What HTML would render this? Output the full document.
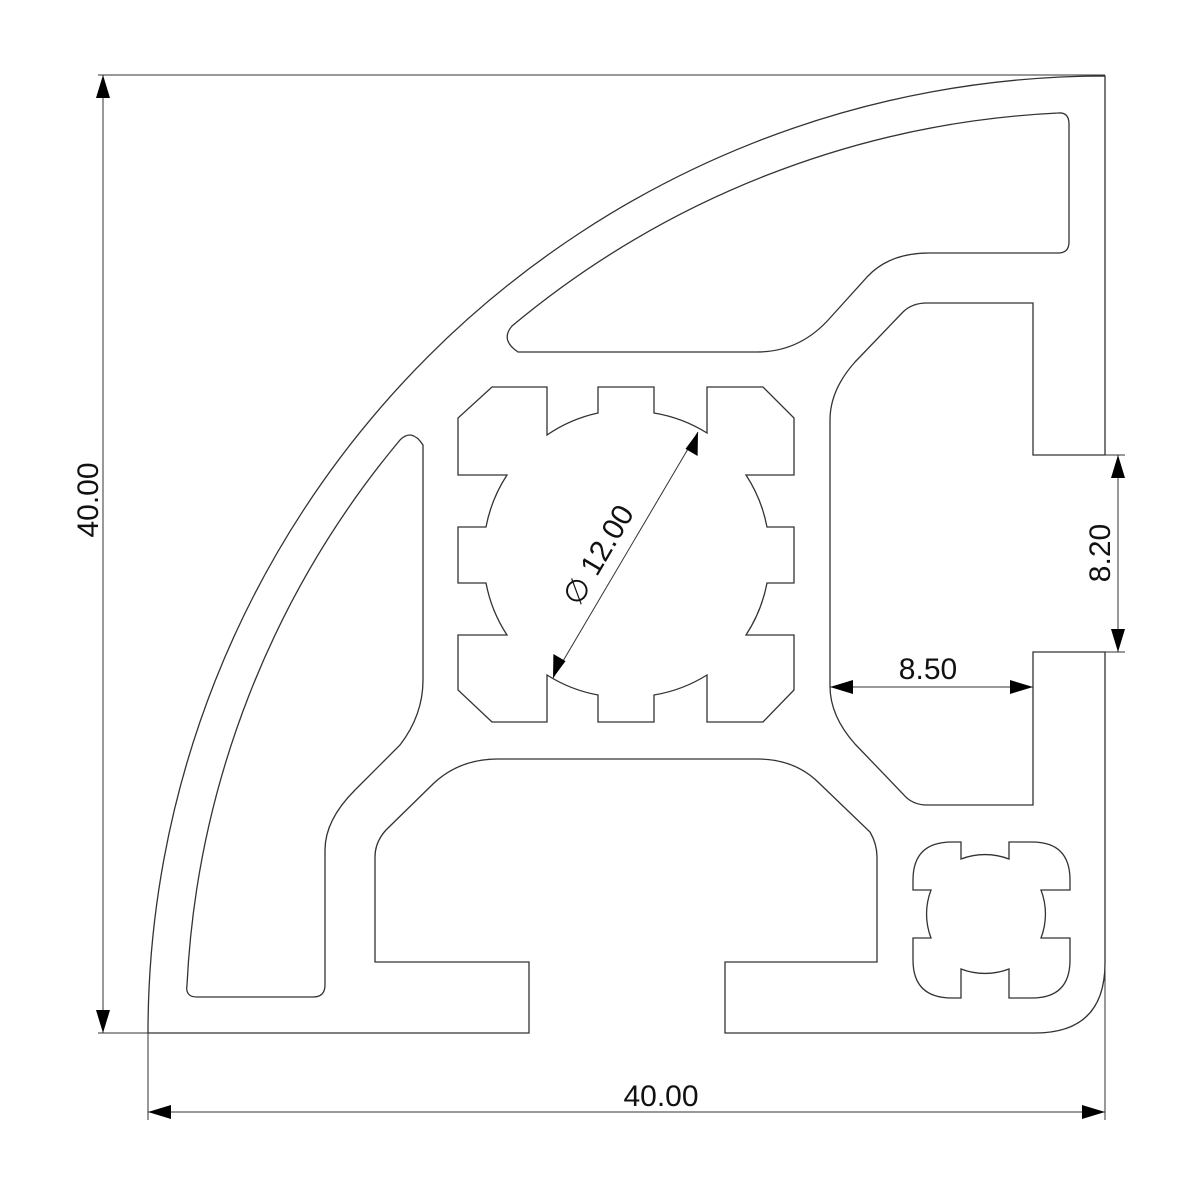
<!DOCTYPE html>
<html><head><meta charset="utf-8"><style>
html,body{margin:0;padding:0;background:#fff;}
svg{display:block;}
text{font-family:"Liberation Sans",sans-serif;font-size:30px;fill:#111;}
</style></head><body>
<svg width="1200" height="1200" viewBox="0 0 1200 1200" xmlns="http://www.w3.org/2000/svg">
<g fill="none" stroke="#333" stroke-width="1.3">
<path d="M148,1033 A957,957 0 0 1 1105,76 L1105,455 L1033,455 L1033,303 L927,303 Q912,303 903,312 L855,362 Q830,390 830,420 L830,686 Q830,716 855,744 L903,794 Q912,805 927,805 L1033,805 L1033,652 L1105,652 L1105,963 Q1105,1033 1035,1033 L725,1033 L725,962 L877,962 L877,857 Q877,844 870,832 L819,783 Q795,759 757,759 L498,759 Q460,759 434,783 L386,830 Q375,842 375,857 L375,962 L529,962 L529,1033 Z"/>
<path d="M1058,113 A921,921 0 0 0 512,326 Q500,340 518,352 L757,352 Q800,352 830,318 L868,276 Q890,253 929,253 L1058,253 Q1069,253 1069,242 L1069,124 Q1069,112 1058,113 Z"/>
<path d="M187,985 A921,921 0 0 1 400,440 Q412,428 423,445 L423,680 Q423,715 400,745 L355,790 Q325,820 325,850 L325,985 Q325,997 313,997 L197,997 Q185,997 187,985 Z"/>
<path d="M492,387 L547,387 L547,435 A144,144 0 0 1 598,413 L598,387 L654,387 L654,413 A144,144 0 0 1 707,433 L707,387 L763,387 L794,418 L794,475 L746,475 A144,144 0 0 1 767,527 L794,527 L794,583 L767,583 A144,144 0 0 1 746,635 L794,635 L794,690 L763,722 L707,722 L707,675 A144,144 0 0 1 654,695 L654,722 L598,722 L598,695 A144,144 0 0 1 547,675 L547,722 L492,722 L458,690 L458,635 L507,635 A144,144 0 0 1 486,583 L458,583 L458,527 L486,527 A144,144 0 0 1 507,475 L458,475 L458,418 Z"/>
<path d="M952,842 L961,842 L961,859 A67,67 0 0 1 1009,859 L1009,842 L1032,842 Q1070,842 1070,880 L1070,890 L1041,890 A67,67 0 0 1 1041,938 L1070,938 L1070,960 Q1070,998 1032,998 L1009,998 L1009,969 A67,67 0 0 1 961,969 L961,998 L952,998 Q913,998 913,960 L913,938 L931,938 A67,67 0 0 1 931,890 L913,890 L913,880 Q913,842 952,842 Z"/>
</g>
<g fill="none" stroke="#333" stroke-width="1">
<line x1="98" y1="75" x2="1105" y2="75"/>
<line x1="98" y1="1033" x2="148" y2="1033"/>
<line x1="103" y1="75" x2="103" y2="1033"/>
<line x1="148" y1="1033" x2="148" y2="1120"/>
<line x1="1105" y1="963" x2="1105" y2="1120"/>
<line x1="148" y1="1112" x2="1105" y2="1112"/>
<line x1="1105" y1="455" x2="1125" y2="455"/>
<line x1="1105" y1="652" x2="1125" y2="652"/>
<line x1="1118" y1="455" x2="1118" y2="652"/>
<line x1="830" y1="687" x2="1033" y2="687"/>
<line x1="698" y1="432" x2="553" y2="678"/>
</g>
<g fill="#000">
<polygon points="103,75 96,98 110,98"/>
<polygon points="103,1033 96,1010 110,1010"/>
<polygon points="148,1112 171,1105 171,1119"/>
<polygon points="1105,1112 1082,1105 1082,1119"/>
<polygon points="1118,455 1111,478 1125,478"/>
<polygon points="1118,652 1111,629 1125,629"/>
<polygon points="830,687 853,680 853,694"/>
<polygon points="1033,687 1010,680 1010,694"/>
<polygon points="698,432 697.6,456 685.5,448.9"/>
<polygon points="553,678 553.4,654 565.5,661.1"/>
</g>
<text x="661" y="1106" text-anchor="middle">40.00</text>
<text x="928" y="679" text-anchor="middle">8.50</text>
<text transform="translate(98,500) rotate(-90)" text-anchor="middle">40.00</text>
<text transform="translate(1110,553) rotate(-90)" text-anchor="middle">8.20</text>
<text transform="translate(607,560) rotate(-59.5)" text-anchor="middle">∅ 12.00</text>
</svg>
</body></html>
